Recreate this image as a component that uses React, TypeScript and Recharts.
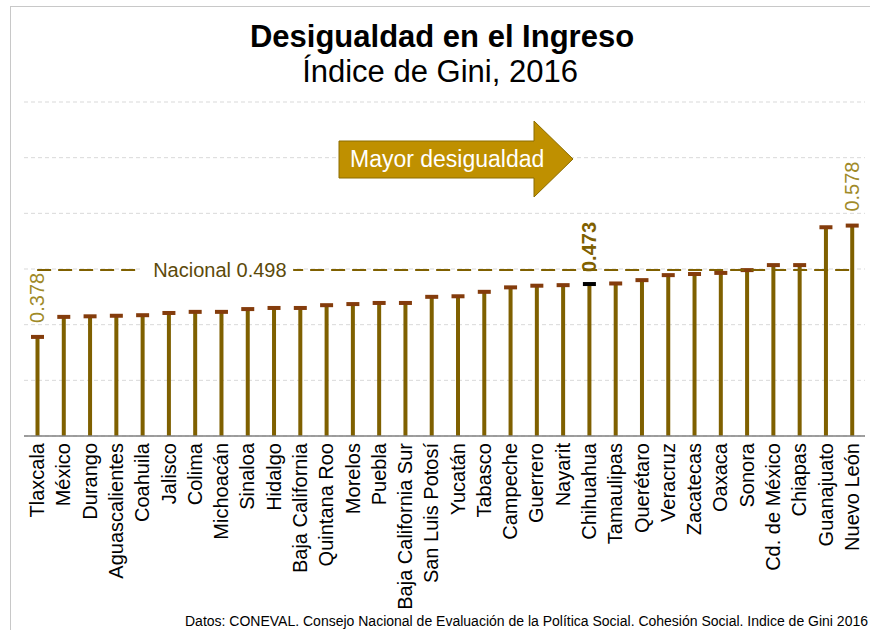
import React from "react";
import {
  Bar,
  CartesianGrid,
  ComposedChart,
  LabelList,
  ReferenceLine,
  XAxis,
  YAxis,
} from "recharts";

const STATES = [
  "Tlaxcala", "México", "Durango", "Aguascalientes", "Coahuila", "Jalisco",
  "Colima", "Michoacán", "Sinaloa", "Hidalgo", "Baja California", "Quintana Roo",
  "Morelos", "Puebla", "Baja California Sur", "San Luis Potosí", "Yucatán",
  "Tabasco", "Campeche", "Guerrero", "Nayarit", "Chihuahua", "Tamaulipas",
  "Querétaro", "Veracruz", "Zacatecas", "Oaxaca", "Sonora", "Cd. de México",
  "Chiapas", "Guanajuato", "Nuevo León",
];

const GINI = [
  0.378, 0.414, 0.415, 0.416, 0.417, 0.421,
  0.423, 0.423, 0.428, 0.43, 0.43, 0.435,
  0.437, 0.439, 0.439, 0.45, 0.451,
  0.459, 0.467, 0.47, 0.471, 0.473, 0.474,
  0.48, 0.489, 0.491, 0.493, 0.498, 0.507,
  0.507, 0.575, 0.578,
];

const NATIONAL = 0.498;
const Y_TICKS = [0.2, 0.3, 0.4, 0.5, 0.6, 0.7, 0.8];
const LABELED = ["Tlaxcala", "Chihuahua", "Nuevo León"];
const HIGHLIGHT = "Chihuahua";

const data = STATES.map((name, i) => ({ name, gini: GINI[i] }));

const FONT = "'Liberation Sans', Arial, Helvetica, sans-serif";
const STEM = "#7F6000";
const CAP = "#843C0C";

const Lollipop = (props: any) => {
  const { x, y, width, height, payload } = props;
  const cx = x + width / 2;
  const capColor = payload.name === HIGHLIGHT ? "#000000" : CAP;
  return (
    <g>
      <rect x={cx - 2} y={y} width={4} height={height} fill={STEM} />
      <rect x={cx - 6.5} y={y - 2} width={13} height={4} fill={capColor} />
    </g>
  );
};

const StateTick = (props: any) => {
  const { x, y, payload } = props;
  return (
    <text
      x={x}
      y={y - 1}
      transform={`rotate(-90, ${x}, ${y - 1})`}
      textAnchor="end"
      dy="0.35em"
      fontSize={20}
      fontFamily={FONT}
      fill="#000"
    >
      {payload.value}
    </text>
  );
};

const ValueLabel = (props: any) => {
  const { x, y, width, value, index } = props;
  const name = STATES[index];
  if (!LABELED.includes(name)) return null;
  const bold = name === HIGHLIGHT;
  const cx = x + width / 2;
  const ty = y - (bold ? 12 : 14);
  return (
    <text
      x={cx}
      y={ty}
      transform={`rotate(-90, ${cx}, ${ty})`}
      textAnchor="start"
      dy="0.35em"
      fontSize={20}
      fontWeight={bold ? "bold" : "normal"}
      fontFamily={FONT}
      fill={bold ? "#7F6000" : "#A08A28"}
    >
      {value.toFixed(3)}
    </text>
  );
};

const NationalLabel = (props: any) => {
  const { viewBox } = props;
  const x0 = viewBox.x;
  const y0 = viewBox.y;
  return (
    <g>
      <rect x={x0 + 104} y={y0 - 11} width={152} height={22} fill="#fff" />
      <text
        x={x0 + 116}
        y={y0}
        dy="0.35em"
        fontSize={20}
        fontFamily={FONT}
        fill="#5C4A0A"
      >
        Nacional {NATIONAL.toFixed(3)}
      </text>
    </g>
  );
};

export default function App() {
  return (
    <div style={{ position: "relative", width: 870, height: 630, background: "#fff", overflow: "hidden" }}>
      <style>{"body{margin:0;}"}</style>
      <ComposedChart
        width={870}
        height={630}
        data={data}
        margin={{ top: 102, right: 5, bottom: 14, left: 24 }}
      >
        <CartesianGrid vertical={false} stroke="#d9d9d9" strokeDasharray="4 3" />
        <YAxis hide domain={[0.2, 0.8]} ticks={Y_TICKS} type="number" />
        <XAxis
          dataKey="name"
          interval={0}
          height={180}
          tickLine={false}
          axisLine={{ stroke: "#808080", strokeWidth: 1.5 }}
          tick={<StateTick />}
        />
        <ReferenceLine
          segment={[
            { x: STATES[0], y: NATIONAL },
            { x: STATES[STATES.length - 1], y: NATIONAL },
          ]}
          stroke={STEM}
          strokeWidth={2}
          strokeDasharray="14 7"
          label={<NationalLabel />}
        />
        <Bar dataKey="gini" barSize={13} shape={<Lollipop />} isAnimationActive={false}>
          <LabelList dataKey="gini" content={<ValueLabel />} />
        </Bar>
      </ComposedChart>
      <svg
        width={870}
        height={630}
        style={{ position: "absolute", left: 0, top: 0, pointerEvents: "none" }}
      >
        <line x1={10.5} y1={6} x2={10.5} y2={630} stroke="#c8c8c8" strokeWidth={1} />
        <line x1={10} y1={6.5} x2={870} y2={6.5} stroke="#c8c8c8" strokeWidth={1} />
        <text x={442} y={47} textAnchor="middle" fontSize={31} fontWeight="bold" fontFamily={FONT} fill="#000">
          Desigualdad en el Ingreso
        </text>
        <text x={440} y={82} textAnchor="middle" fontSize={31} fontFamily={FONT} fill="#000">
          Índice de Gini, 2016
        </text>
        <polygon
          points="339,141 534,141 534,121 573,159 534,197 534,178 339,178"
          fill="#BF9000"
          stroke="#8C6D00"
          strokeWidth={1}
        />
        <text x={350} y={167} fontSize={23} fontFamily={FONT} fill="#fff">
          Mayor desigualdad
        </text>
        <text x={868} y={626} textAnchor="end" fontSize={14} fontFamily={FONT} fill="#000">
          Datos: CONEVAL. Consejo Nacional de Evaluación de la Política Social. Cohesión Social. Indice de Gini 2016
        </text>
      </svg>
    </div>
  );
}
